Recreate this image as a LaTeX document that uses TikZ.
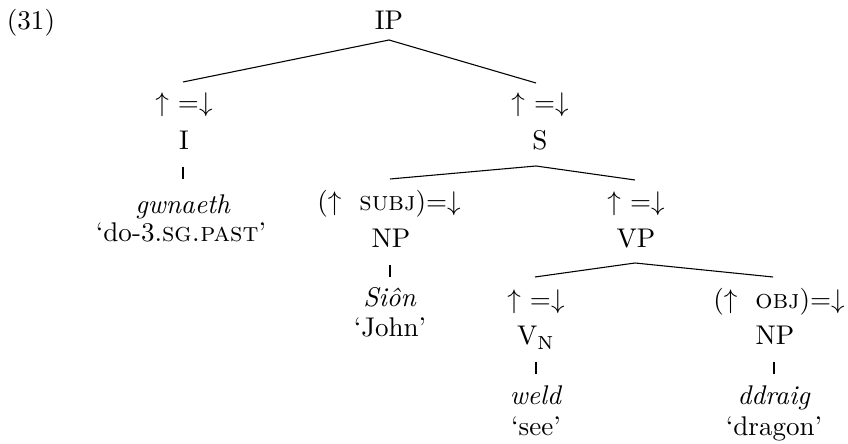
\documentclass[tikz,border=0pt]{standalone}
\begin{document}
\begin{tikzpicture}[x=0.37pt,y=-0.37pt,
  lab/.style={inner sep=0pt,anchor=base},
  br/.style={line width=0.4pt}]
\useasboundingbox (0,0) rectangle (848,444);
% root
\node[lab] (ex) at (31,30) {(31)};
\node[lab] (ip) at (389,30) {IP};
% column I
\node[lab] (ia) at (184,112) {$\uparrow$ =$\downarrow$};
\node[lab] (i)  at (184,150) {I};
\node[lab] (iw) at (183,214) {\textit{gwnaeth}};
\node[lab] (ig) at (181,242) {`do-3.\textsc{sg.past}'};
% column S
\node[lab] (sa) at (540,112) {$\uparrow$ =$\downarrow$};
\node[lab] (s)  at (540,150) {S};
% column NP subj
\node[lab] (na) at (389,211) {($\uparrow$\ \ \textsc{subj})=$\downarrow$};
\node[lab] (np) at (391,248) {NP};
\node[lab] (nw) at (390,307) {\textit{Siôn}};
\node[lab] (ng) at (390,337) {`John'};
% column VP
\node[lab] (va) at (636,211) {$\uparrow$ =$\downarrow$};
\node[lab] (vp) at (636,248) {VP};
% column V_N
\node[lab] (vna) at (536,309) {$\uparrow$ =$\downarrow$};
\node[lab] (vn)  at (536,345) {V$_{\mathrm{N}}$};
\node[lab] (vnw) at (536,405) {\textit{weld}};
\node[lab] (vng) at (536,435) {`see'};
% column NP obj
\node[lab] (oa) at (779,309) {($\uparrow$\ \ \textsc{obj})=$\downarrow$};
\node[lab] (onp) at (775,345) {NP};
\node[lab] (ow) at (774,405) {\textit{ddraig}};
\node[lab] (og) at (774,435) {`dragon'};
% branch points
\coordinate (ipB) at (389,40);
\coordinate (iT) at (183,82);
\coordinate (sT) at (536,83);
\coordinate (sB) at (536,166);
\coordinate (npT) at (390,179);
\coordinate (vpT) at (635,180);
\coordinate (vpB) at (635,263);
\coordinate (vnT) at (535,277);
\coordinate (onpT) at (773,277);
% unary stems
\coordinate (i1) at (183,167);  \coordinate (i2) at (183,179);
\coordinate (n1) at (390,265);  \coordinate (n2) at (390,277);
\coordinate (v1) at (536,362);  \coordinate (v2) at (536,374);
\coordinate (o1) at (774,362);  \coordinate (o2) at (774,374);
\draw[br] (iT) -- (ipB) -- (sT);
\draw[br] (npT) -- (sB) -- (vpT);
\draw[br] (vnT) -- (vpB) -- (onpT);
\draw[br] (i1) -- (i2);
\draw[br] (n1) -- (n2);
\draw[br] (v1) -- (v2);
\draw[br] (o1) -- (o2);
\end{tikzpicture}
\end{document}
